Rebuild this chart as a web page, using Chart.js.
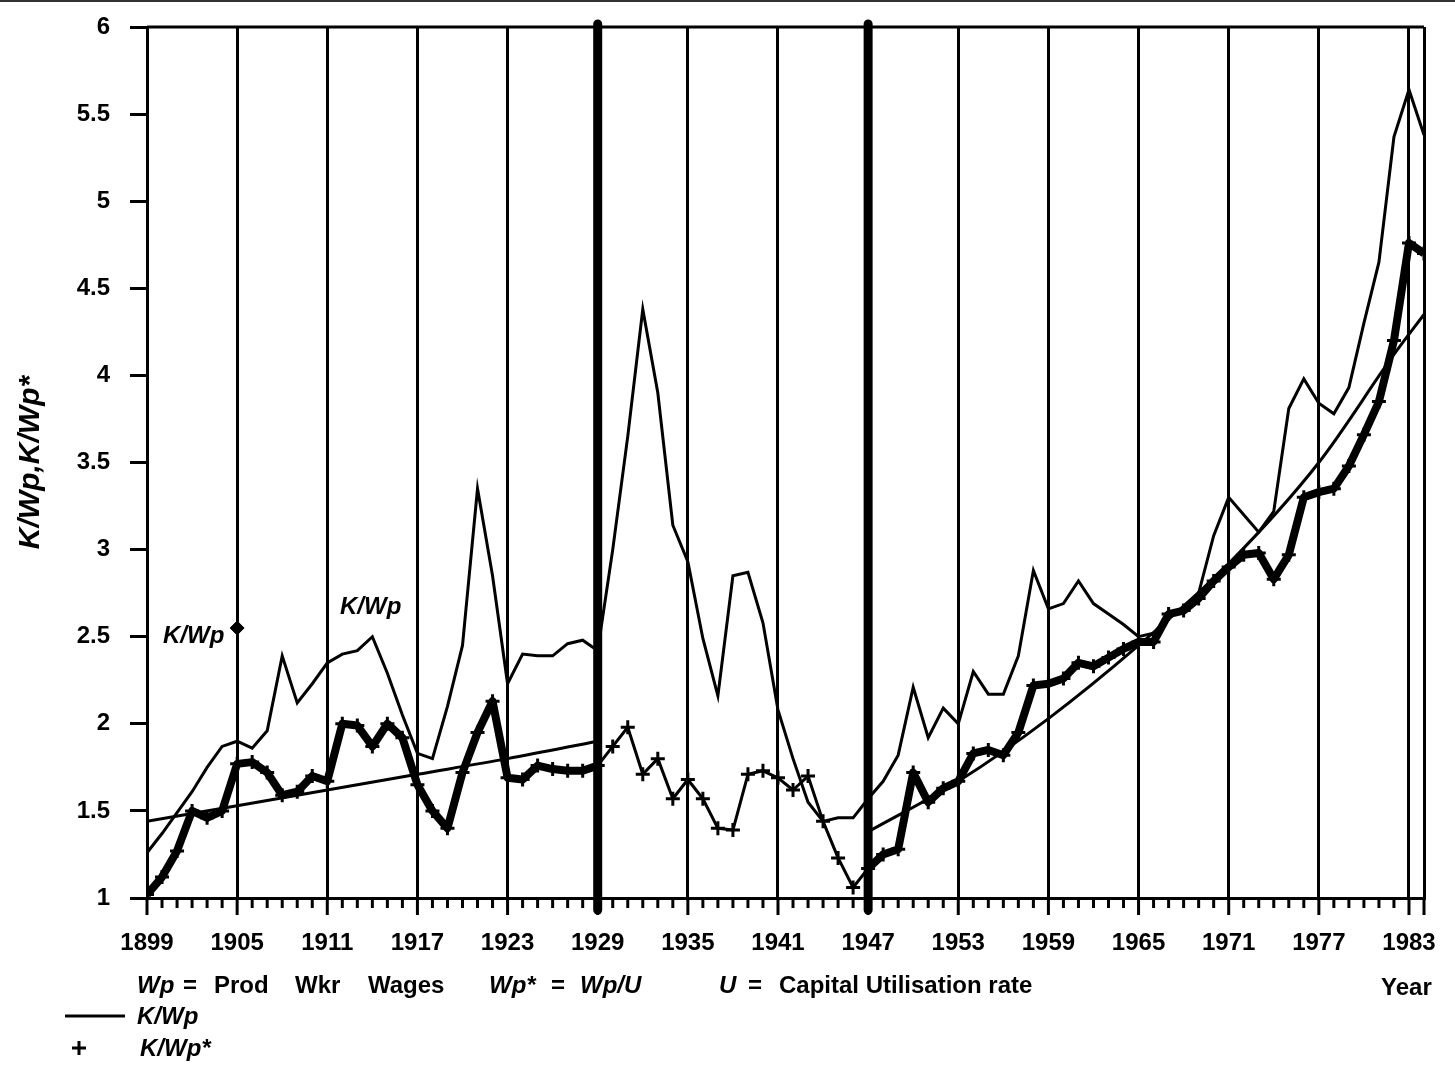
<!DOCTYPE html>
<html>
<head>
<meta charset="utf-8">
<script src="https://cdn.jsdelivr.net/npm/chart.js@4.4.1/dist/chart.umd.min.js"></script>
<style>
  html, body { margin: 0; padding: 0; background: #fff; }
  canvas { display: block; }
</style>
</head>
<body>
<canvas id="chart" width="1455" height="1080"></canvas>
<script>
// years on the x axis
const years = [1899, 1900, 1901, 1902, 1903, 1904, 1905, 1906, 1907, 1908, 1909,
  1910, 1911, 1912, 1913, 1914, 1915, 1916, 1917, 1918, 1919,
  1920, 1921, 1922, 1923, 1924, 1925, 1926, 1927, 1928, 1929,
  1930, 1931, 1932, 1933, 1934, 1935, 1936, 1937, 1938, 1939,
  1940, 1941, 1942, 1943, 1944, 1945, 1946, 1947, 1948, 1949,
  1950, 1951, 1952, 1953, 1954, 1955, 1956, 1957, 1958, 1959,
  1960, 1961, 1962, 1963, 1964, 1965, 1966, 1967, 1968, 1969,
  1970, 1971, 1972, 1973, 1974, 1975, 1976, 1977, 1978, 1979,
  1980, 1981, 1982, 1983, 1984];

// K/Wp (thin line)
const kWp = [1.26, 1.37, 1.49, 1.61, 1.75, 1.87, 1.90, 1.86, 1.96, 2.39, 2.12,
  2.23, 2.35, 2.40, 2.42, 2.50, 2.29, 2.05, 1.83, 1.80, 2.10,
  2.45, 3.35, 2.85, 2.23, 2.40, 2.39, 2.39, 2.46, 2.48, 2.42,
  3.00, 3.65, 4.38, 3.90, 3.14, 2.93, 2.49, 2.16, 2.85, 2.87,
  2.58, 2.08, 1.80, 1.55, 1.44, 1.46, 1.46, 1.57, 1.67, 1.82,
  2.21, 1.92, 2.09, 2.00, 2.30, 2.17, 2.17, 2.39, 2.88, 2.66,
  2.69, 2.82, 2.69, 2.63, 2.57, 2.50, 2.52, 2.62, 2.65, 2.75,
  3.08, 3.30, 3.20, 3.10, 3.22, 3.81, 3.98, 3.84, 3.78, 3.93,
  4.30, 4.65, 5.37, 5.64, 5.38];

// K/Wp* (plus markers)
const kWpStar = [1.02, 1.12, 1.27, 1.50, 1.46, 1.50, 1.77, 1.78, 1.72, 1.59, 1.61,
  1.70, 1.67, 2.00, 1.99, 1.87, 2.00, 1.92, 1.65, 1.50, 1.40,
  1.72, 1.95, 2.13, 1.69, 1.68, 1.76, 1.74, 1.73, 1.73, 1.76,
  1.87, 1.98, 1.71, 1.80, 1.57, 1.68, 1.57, 1.40, 1.39, 1.71,
  1.73, 1.69, 1.62, 1.70, 1.44, 1.23, 1.06, 1.17, 1.25, 1.28,
  1.72, 1.55, 1.63, 1.67, 1.83, 1.85, 1.82, 1.95, 2.22, 2.23,
  2.26, 2.35, 2.33, 2.38, 2.43, 2.47, 2.47, 2.63, 2.65, 2.72,
  2.82, 2.90, 2.97, 2.98, 2.83, 2.97, 3.30, 3.33, 3.35, 3.48,
  3.66, 3.85, 4.20, 4.76, 4.70];

// trend before 1929 and after 1947
const trendAYears = [1899, 1905, 1911, 1917, 1923, 1929];
const trendAVals = [1.44, 1.53, 1.62, 1.71, 1.80, 1.90];
const trendBYears = [1947, 1953, 1959, 1965, 1971, 1977, 1982, 1984];
const trendBVals = [1.38, 1.67, 2.03, 2.45, 2.92, 3.50, 4.12, 4.35];

// label marker
const markYear = 1905;
const markVal = 2.55;

const labelYears = [1899, 1905, 1911, 1917, 1923, 1929, 1935, 1941, 1947, 1953, 1959, 1965, 1971, 1977, 1983];
const yTicks = [1, 1.5, 2, 2.5, 3, 3.5, 4, 4.5, 5, 5.5, 6];
const breakYears = [1929, 1947];

const FAMILY = "'Liberation Sans', Arial, sans-serif";

function pts(xs, ys) {
  return xs.map((v, i) => ({x: v, y: ys[i]}));
}

function gridWidth(v) {
  if (breakYears.includes(v)) return 0;
  if (labelYears.includes(v) || v === years[years.length - 1]) return 3;
  return 0;
}

// frame, year ticks, heavy break lines and the texts
const decor = {
  id: 'decor',
  beforeDatasetsDraw(chart) {
    const {ctx, chartArea: a, scales: {x}} = chart;
    ctx.save();
    ctx.fillStyle = '#333';
    ctx.fillRect(0, 0, chart.width, 2);
    ctx.strokeStyle = '#000';
    ctx.lineWidth = 3;
    ctx.beginPath();
    ctx.moveTo(a.left, a.top);
    ctx.lineTo(a.right, a.top);
    ctx.stroke();
    years.forEach(yr => {
      const px = x.getPixelForValue(yr);
      const major = labelYears.includes(yr) || yr === years[years.length - 1];
      ctx.beginPath();
      ctx.moveTo(px, a.bottom);
      ctx.lineTo(px, a.bottom + (major ? 17 : 10));
      ctx.stroke();
    });
    ctx.lineWidth = 9;
    ctx.lineCap = 'round';
    breakYears.forEach(yr => {
      const px = x.getPixelForValue(yr);
      ctx.beginPath();
      ctx.moveTo(px, a.top - 3);
      ctx.lineTo(px, a.bottom + 12);
      ctx.stroke();
    });
    ctx.restore();
  },
  afterDraw(chart) {
    const ctx = chart.ctx;
    ctx.save();
    ctx.fillStyle = '#000';
    ctx.textBaseline = 'middle';
    const put = (t, x, y, it) => {
      ctx.font = (it ? 'italic ' : '') + 'bold 24px ' + FAMILY;
      ctx.fillText(t, x, y);
    };
    put('K/Wp', 163, 636, true);
    put('K/Wp', 340, 607, true);

    put('Wp', 137, 986, true);
    put('=', 183, 986);
    put('Prod', 214, 986);
    put('Wkr', 295, 986);
    put('Wages', 368, 986);
    put('Wp*', 489, 986, true);
    put('=', 551, 986);
    put('Wp/U', 580, 986, true);
    put('U', 719, 986, true);
    put('=', 748, 986);
    put('Capital Utilisation rate', 779, 986);
    put('Year', 1381, 988);

    ctx.strokeStyle = '#000';
    ctx.lineWidth = 3;
    ctx.beginPath();
    ctx.moveTo(65, 1016);
    ctx.lineTo(125, 1016);
    ctx.stroke();
    put('K/Wp', 137, 1017, true);
    ctx.beginPath();
    ctx.moveTo(72, 1048); ctx.lineTo(86, 1048);
    ctx.moveTo(79, 1041); ctx.lineTo(79, 1055);
    ctx.stroke();
    put('K/Wp*', 140, 1049, true);
    ctx.restore();
  }
};

const ctx = document.getElementById('chart');
new Chart(ctx, {
  type: 'line',
  data: {
    datasets: [{
      label: 'K/Wp',
      data: pts(years, kWp),
      borderColor: '#000',
      borderWidth: 3,
      pointRadius: 0,
      tension: 0
    }, {
      label: 'K/Wp*',
      data: pts(years, kWpStar),
      borderColor: '#000',
      borderWidth: 8,
      borderJoinStyle: 'round',
      pointStyle: 'cross',
      pointRadius: 7,
      pointBorderWidth: 3,
      pointBorderColor: '#000',
      tension: 0,
      segment: {
        borderWidth: c => (c.p0.parsed.x >= breakYears[0] && c.p1.parsed.x <= breakYears[1]) ? 3 : 8
      }
    }, {
      label: 'trend A',
      data: pts(trendAYears, trendAVals),
      borderColor: '#000',
      borderWidth: 3,
      pointRadius: 0,
      cubicInterpolationMode: 'monotone'
    }, {
      label: 'trend B',
      data: pts(trendBYears, trendBVals),
      borderColor: '#000',
      borderWidth: 3,
      pointRadius: 0,
      cubicInterpolationMode: 'monotone'
    }, {
      label: 'mark',
      data: [{x: markYear, y: markVal}],
      showLine: false,
      pointStyle: 'rectRot',
      pointRadius: 7,
      pointBackgroundColor: '#000',
      pointBorderColor: '#000'
    }]
  },
  options: {
    responsive: false,
    animation: false,
    layout: { padding: { top: 27, right: 28, bottom: 0, left: 0 } },
    plugins: {
      legend: { display: false },
      tooltip: { enabled: false }
    },
    scales: {
      x: {
        type: 'linear',
        min: years[0],
        max: years[years.length - 1],
        afterBuildTicks: s => { s.ticks = years.map(v => ({value: v})); },
        afterFit: s => { s.height = 182; },
        grid: {
          drawTicks: false,
          color: '#000',
          lineWidth: c => gridWidth(c.tick ? c.tick.value : 0)
        },
        border: { color: '#000', width: 3 },
        ticks: {
          autoSkip: false,
          maxRotation: 0,
          padding: 31,
          color: '#000',
          font: { family: FAMILY, size: 24, weight: 'bold' },
          callback: v => labelYears.includes(v) ? String(v) : ''
        }
      },
      y: {
        min: 1,
        max: 6,
        afterBuildTicks: s => { s.ticks = yTicks.map(v => ({value: v})); },
        afterFit: s => { s.width = 147; s.paddingTop = 0; s.paddingBottom = 0; },
        grid: { drawOnChartArea: false, tickLength: 17, tickWidth: 3, tickColor: '#000' },
        border: { color: '#000', width: 3 },
        ticks: {
          padding: 20,
          color: '#000',
          font: { family: FAMILY, size: 24, weight: 'bold' },
          callback: v => String(v)
        },
        title: {
          display: true,
          text: 'K/Wp,K/Wp*',
          color: '#000',
          font: { family: FAMILY, size: 30, weight: 'bold', style: 'italic' },
          padding: { top: 13, bottom: 0 }
        }
      }
    }
  },
  plugins: [decor]
});
</script>
</body>
</html>
